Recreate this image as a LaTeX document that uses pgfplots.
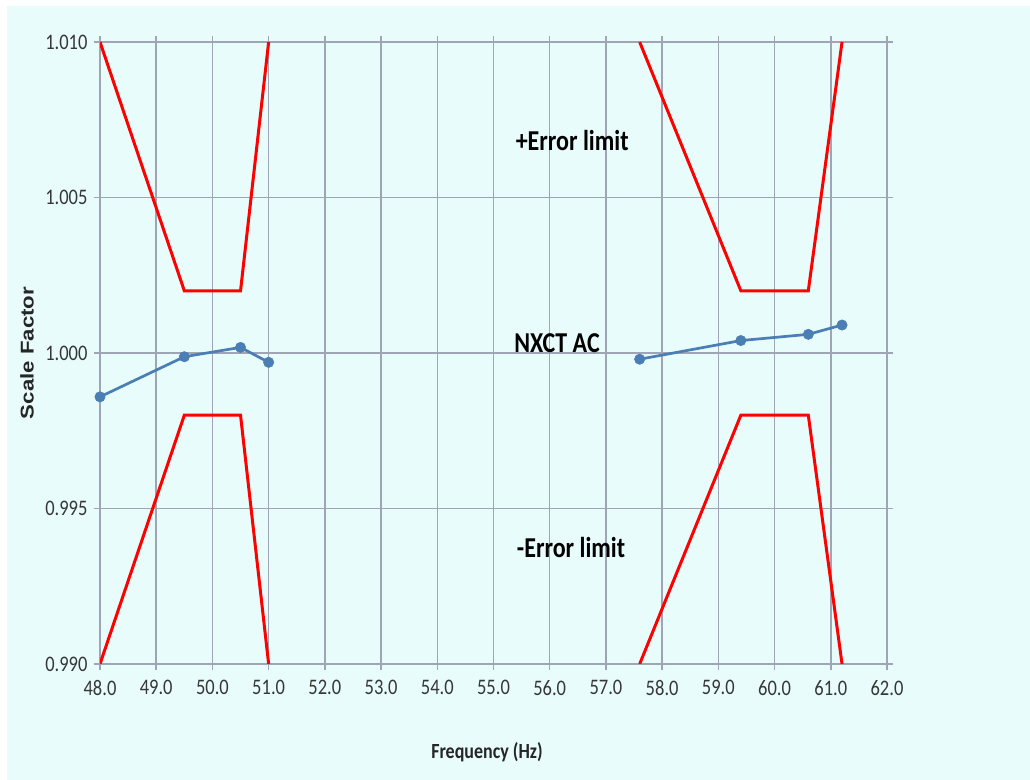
\documentclass[border=0pt]{standalone}
\usepackage{pgfplots}
\pgfplotsset{compat=1.18}
\usepackage{graphicx}
\usepackage{fontspec}
\setmainfont{Carlito}
\newfontfamily\arialfont{Liberation Sans}
\definecolor{bgc}{RGB}{232,252,252}
\definecolor{gridc}{RGB}{160,165,182}
\definecolor{ticklab}{RGB}{55,55,55}
\definecolor{serblue}{RGB}{74,126,180}
\newcommand\vs[1]{\scalebox{1}[1.2]{#1}}
\begin{document}
\begin{tikzpicture}
\fill[white] (0,0) rectangle (1030bp,780bp);
\fill[bgc] (7bp,0) rectangle (1030bp,774bp);
\begin{axis}[
  at={(100bp,116bp)}, anchor=south west,
  scale only axis, width=787bp, height=622bp,
  xmin=48, xmax=62, ymin=0.990, ymax=1.010,
  xtick={48,49,50,51,52,53,54,55,56,57,58,59,60,61,62},
  xticklabels={\vs{48.0},\vs{49.0},\vs{50.0},\vs{51.0},\vs{52.0},\vs{53.0},\vs{54.0},\vs{55.0},\vs{56.0},\vs{57.0},\vs{58.0},\vs{59.0},\vs{60.0},\vs{61.0},\vs{62.0}},
  ytick={0.990,0.995,1.000,1.005,1.010},
  yticklabels={\vs{0.990},\vs{0.995},\vs{1.000},\vs{1.005},\vs{1.010}},
  grid=major, major grid style={gridc, line width=1.5bp},
  axis line style={gridc, line width=1.5bp},
  tick style={gridc, line width=1.5bp},
  tick align=outside, major tick length=6bp,
  tick label style={text=ticklab, font=\fontsize{18.5bp}{20bp}\selectfont},
  xticklabel style={yshift=-7bp},
  yticklabel style={xshift=-3bp},
  xlabel={\vs{Frequency (Hz)}},
  ylabel={\scalebox{1.2}[1]{Scale Factor}},
  every axis x label/.style={at={(axis description cs:0.4917,-0.1415)}, anchor=center, font=\bfseries\fontsize{18bp}{20bp}\selectfont, text=black!85},
  every axis y label/.style={at={(axis description cs:-0.0928,0.5)}, anchor=center, rotate=90, font=\arialfont\bfseries\fontsize{18.5bp}{20bp}\selectfont, text=black!85},
]
\addplot[red, line width=3bp] coordinates {(48,1.010)(49.5,1.002)(50.5,1.002)(51,1.010)};
\addplot[red, line width=3bp] coordinates {(48,0.990)(49.5,0.998)(50.5,0.998)(51,0.990)};
\addplot[red, line width=3bp] coordinates {(57.6,1.010)(59.4,1.002)(60.6,1.002)(61.2,1.010)};
\addplot[red, line width=3bp] coordinates {(57.6,0.990)(59.4,0.998)(60.6,0.998)(61.2,0.990)};
\addplot[serblue, line width=2.7bp, mark=*, mark size=5.2bp, mark options={fill=serblue, draw=serblue, line width=0.5bp}] coordinates {(48,0.99859)(49.5,0.99988)(50.5,1.00018)(51,0.9997)};
\addplot[serblue, line width=2.7bp, mark=*, mark size=5.2bp, mark options={fill=serblue, draw=serblue, line width=0.5bp}] coordinates {(57.6,0.9998)(59.4,1.0004)(60.6,1.0006)(61.2,1.0009)};
\node[font=\bfseries\fontsize{24bp}{26bp}\selectfont] at (axis cs:56.4,1.00682) {\vs{+Error limit}};
\node[font=\bfseries\fontsize{24bp}{26bp}\selectfont] at (axis cs:56.13,1.00032) {\vs{NXCT AC}};
\node[font=\bfseries\fontsize{24bp}{26bp}\selectfont] at (axis cs:56.38,0.99376) {\vs{-Error limit}};
\end{axis}
\end{tikzpicture}
\end{document}
